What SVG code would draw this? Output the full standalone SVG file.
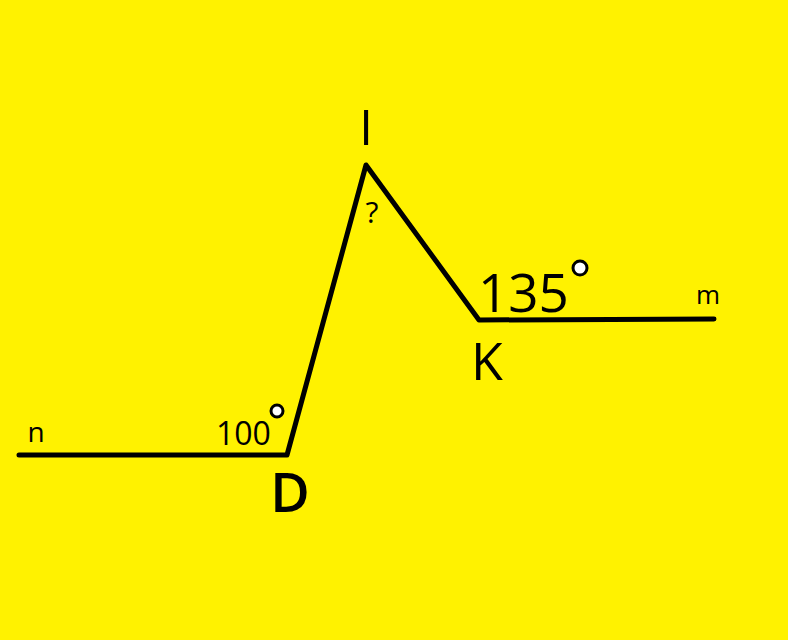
<svg xmlns="http://www.w3.org/2000/svg" width="788" height="640" viewBox="0 0 788 640">
<style>
.ln{stroke:#000;stroke-width:5;fill:none;stroke-linecap:round;stroke-linejoin:round}
.t{font-family:"Open Sans","Noto Sans",sans-serif;fill:#000}
.deg{fill:#fff;stroke:#000;stroke-width:3}
</style>
<rect width="788" height="640" fill="#FFF200"/>
<g id="connectors">
<polyline class="ln" points="19,455 287,455 366,165 479,320 714,319"/>
</g>
<g id="node-I"><text class="t" x="366" y="145" font-size="49" text-anchor="middle">I</text></g>
<g id="angle-I"><text class="t" x="372" y="223" font-size="30" text-anchor="middle">?</text></g>
<g id="node-K"><text class="t" x="487" y="380" font-size="52" text-anchor="middle">K</text></g>
<g id="angle-K"><text class="t" x="478" y="312" font-size="53">135</text><circle class="deg" cx="580" cy="268" r="7"/></g>
<g id="node-m"><text class="t" x="708" y="304" font-size="26" text-anchor="middle">m</text></g>
<g id="node-D"><text class="t" x="290" y="512" font-size="54" font-weight="600" text-anchor="middle">D</text></g>
<g id="angle-D"><text class="t" x="216" y="445" font-size="32">100</text><circle class="deg" cx="277" cy="411" r="6"/></g>
<g id="node-n"><text class="t" x="36" y="442" font-size="28" text-anchor="middle">n</text></g>
</svg>
